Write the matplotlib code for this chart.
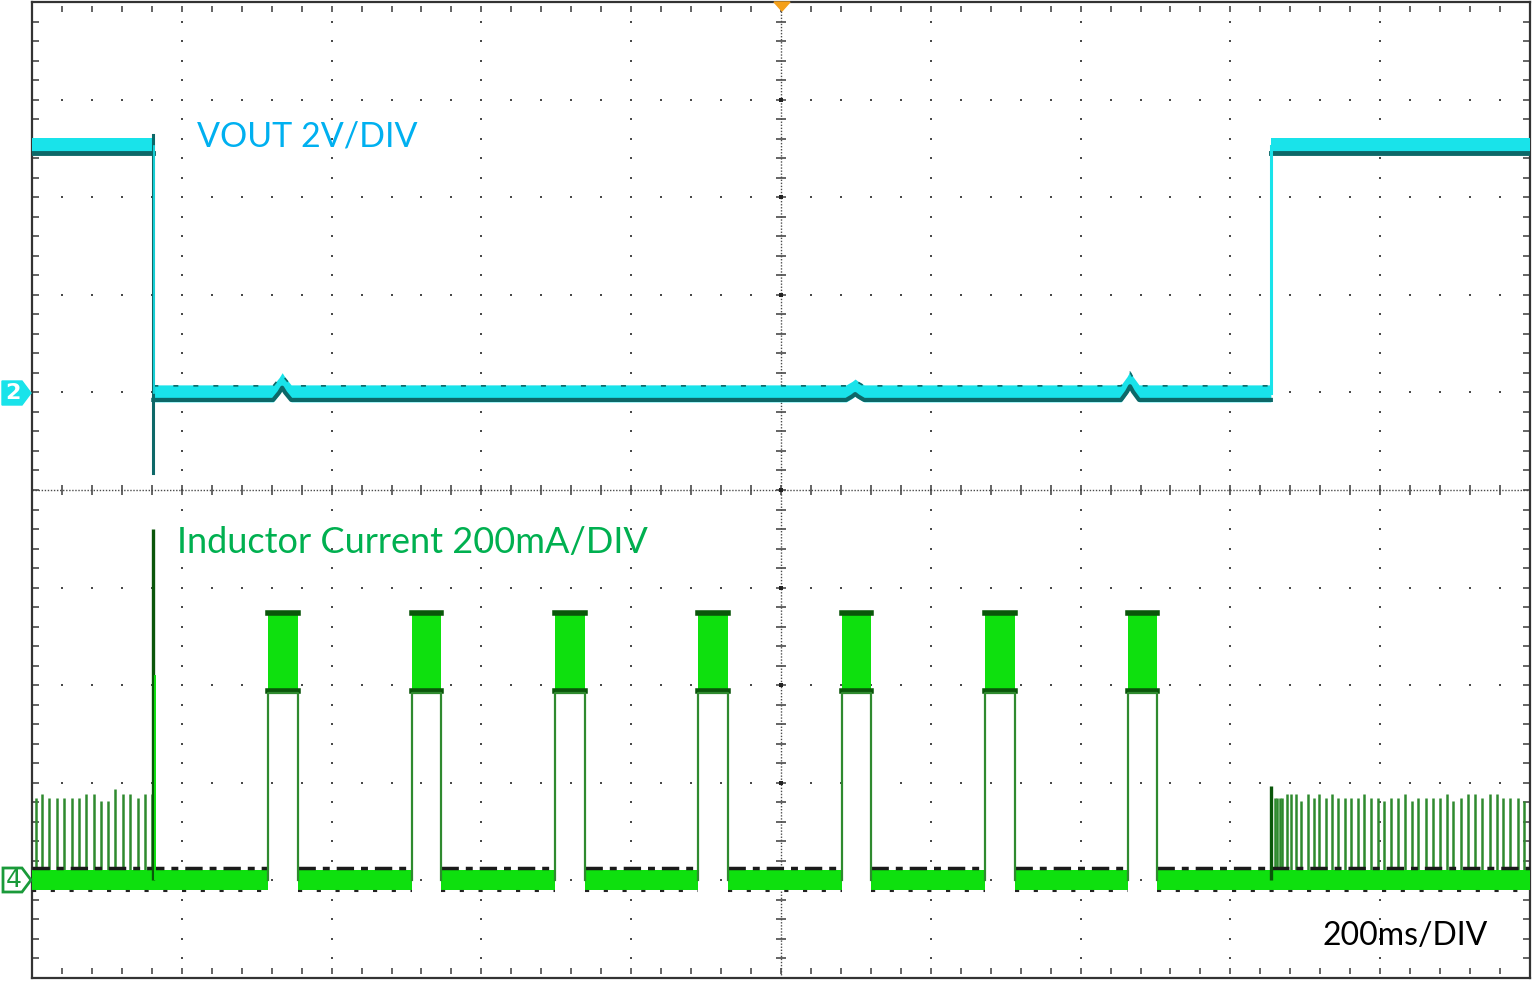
import numpy as np
import matplotlib
matplotlib.use('Agg')
import matplotlib.pyplot as plt
from matplotlib.patches import Polygon

# ---- data (time in ms, 200 ms/div; VOUT in V, inductor current in mA) ----
vout_fall_ms = -838
vout_rise_ms = 654
vout_high_v = 5.04
vout_low_v = -0.02
vout_undershoot_v = -1.66
vout_bump_ms = [-666, 99, 466]
vout_bump_v = [0.25, 0.12, 0.28]

pulse_start_ms = [-685, -493, -302, -111, 81, 272, 463]
pulse_end_ms = [-645, -454, -262, -71, 120, 312, 502]
pulse_top_ma = 551
pulse_low_ma = 385

spike_pre_ms = [-994.6, -986.6, -976.8, -966.6, -956.8, -946.6, -936.8, -928.3, -916.8,
                -908.3, -898.9, -888.8, -878.5, -868.7, -858.9, -848.7, -840.2]
spike_pre_ma = [169, 178, 169, 169, 169, 169, 169, 178, 178,
                163, 163, 187, 178, 178, 169, 178, 178]
spike_post_ms = [659.5, 662.2, 665.8, 669.3, 675.6, 680.9, 687.2, 694.7, 703.2, 711.6,
                 718.7, 727.2, 735.2, 743.2, 753.0, 761.0, 769.9, 778.8, 787.7, 797.1,
                 805.5, 814.8, 823.3, 833.5, 842.9, 850.9, 860.8, 870.1, 879.4, 889.2,
                 897.2, 907.4, 917.2, 927.0, 935.5, 946.2, 955.5, 963.9, 973.3, 983.5, 992.0]
spike_post_ma = [169, 169, 169, 169, 178, 178, 178, 163, 178, 169,
                 178, 169, 178, 169, 169, 169, 169, 178, 169, 169,
                 163, 169, 169, 178, 163, 169, 169, 169, 169, 178,
                 163, 169, 178, 178, 169, 178, 178, 169, 169, 169, 163]
big_spike_ms = [-838, 654]
big_spike_ma = [720, 193]

# channel scaling (divisions)
CH2_OFS, CH2_SCALE = 1.0, 2.0      # V/div
CH4_OFS, CH4_SCALE = -4.0, 200.0   # mA/div


def v2d(v):
    return CH2_OFS + np.asarray(v, dtype=float) / CH2_SCALE


def i2d(i):
    return CH4_OFS + np.asarray(i, dtype=float) / CH4_SCALE


CYAN = '#19e3ea'
TEAL = '#0d6868'
LIME = '#0ee00e'
DKGRN = '#0a560a'
MIDGRN = '#2f8a2f'
GRID = '#4a4a4a'

W, H = 1536, 981
fig = plt.figure(figsize=(W / 100, H / 100), dpi=100)
fig.patch.set_color('white')
ax = fig.add_axes([32 / W, 3 / H, 1498 / W, 976 / H])
ax.set_xlim(-1000, 1000)
ax.set_ylim(-5, 5)
ax.set_xticks([])
ax.set_yticks([])
for s in ax.spines.values():
    s.set_color('#333333')
    s.set_linewidth(1.6)

# ---- graticule ----
ydots = np.arange(-5, 5.01, 0.2)
xdots = np.arange(-1000, 1000.1, 40)
for xv in range(-800, 801, 200):
    if xv == 0:
        continue
    ax.plot(np.full_like(ydots, xv), ydots, ls='none', marker='s', ms=1.6, mew=0, color=GRID)
for yv in range(-4, 5):
    if yv == 0:
        continue
    ax.plot(xdots, np.full_like(xdots, yv), ls='none', marker='s', ms=1.6, mew=0, color=GRID)
# centre cross with minor ticks
ax.axvline(0, color=GRID, lw=1.0, ls=(0, (1, 1.2)))
ax.axhline(0, color=GRID, lw=1.0, ls=(0, (1, 1.2)))
ax.plot(np.zeros_like(ydots), ydots, ls='none', marker='_', ms=7, mew=1.2, color=GRID)
ax.plot(xdots, np.zeros_like(xdots), ls='none', marker='|', ms=7, mew=1.2, color=GRID)
ax.plot(np.zeros(9), np.arange(-4, 5), ls='none', marker='s', ms=3, mew=0, color='#222222')
# border ticks
ax.plot(np.full_like(ydots, -994), ydots, ls='none', marker='_', ms=5, mew=1.2, color=GRID)
ax.plot(np.full_like(ydots, 994), ydots, ls='none', marker='_', ms=5, mew=1.2, color=GRID)
ax.plot(xdots, np.full_like(xdots, -4.93), ls='none', marker='|', ms=5, mew=1.2, color=GRID)
ax.plot(xdots, np.full_like(xdots, 4.93), ls='none', marker='|', ms=5, mew=1.2, color=GRID)

# ---- CH2: VOUT ----
hw = 0.087
segs = [(-1000, vout_fall_ms, vout_high_v), (vout_rise_ms, 1000, vout_high_v)]
for t0, t1, v in segs:
    c = v2d(v)
    ax.fill_between([t0, t1], c - hw, c + hw, color=CYAN, lw=0, zorder=3)
    ax.plot([t0, t1], [c - hw + 0.02, c - hw + 0.02], color=TEAL, lw=3.5, zorder=3)
# low segment with small bumps
t_low = [vout_fall_ms]
v_low = [vout_low_v]
for tb, vb in zip(vout_bump_ms, vout_bump_v):
    t_low += [tb - 12, tb - 4, tb, tb + 4, tb + 12]
    v_low += [vout_low_v, vout_low_v + vb * 0.6, vout_low_v + vb, vout_low_v + vb * 0.6, vout_low_v]
t_low.append(vout_rise_ms)
v_low.append(vout_low_v)
c_low = v2d(v_low)
ax.fill_between(t_low, c_low - hw, c_low + hw, color=CYAN, lw=0, zorder=3)
ax.plot(t_low, c_low - hw + 0.02, color=TEAL, lw=3, zorder=3)
ax.plot(t_low, c_low + hw - 0.01, color=TEAL, lw=1.2, ls=(0, (3, 9)), zorder=3)
# edges
ax.plot([vout_fall_ms, vout_fall_ms], [v2d(vout_high_v) + 0.12, v2d(vout_undershoot_v)],
        color=TEAL, lw=2.2, zorder=4)
ax.plot([vout_fall_ms + 1.5, vout_fall_ms + 1.5], [v2d(vout_high_v), v2d(vout_low_v)],
        color=CYAN, lw=1.2, zorder=4)
ax.plot([vout_rise_ms, vout_rise_ms], [v2d(vout_low_v), v2d(vout_high_v)],
        color=CYAN, lw=2.2, zorder=4)

# ---- CH4: inductor current ----
base_t0 = [-1000] + pulse_end_ms
base_t1 = pulse_start_ms + [1000]
for t0, t1 in zip(base_t0, base_t1):
    ax.fill_between([t0, t1], i2d(-19), i2d(22), color=LIME, lw=0, zorder=3)
    ax.plot([t0, t1], [i2d(26)] * 2, color='#1a1a1a', lw=2.5, ls=(0, (5, 2, 2, 2)), zorder=3)
    ax.plot([t0, t1], [i2d(-22)] * 2, color='#222222', lw=1.5, ls=(0, (2, 7)), zorder=3)
for t0, t1 in zip(pulse_start_ms, pulse_end_ms):
    ax.fill_between([t0, t1], i2d(pulse_low_ma), i2d(pulse_top_ma), color=LIME, lw=0, zorder=3)
    ax.plot([t0, t1], [i2d(pulse_top_ma - 3)] * 2, color=DKGRN, lw=4, zorder=4)
    ax.plot([t0, t1], [i2d(pulse_low_ma + 4)] * 2, color=DKGRN, lw=4, zorder=4)
    ax.plot([t0, t0, t1, t1], [i2d(0), i2d(pulse_low_ma), i2d(pulse_low_ma), i2d(0)],
            color=MIDGRN, lw=1.6, zorder=4)
ax.vlines(spike_pre_ms, i2d(0), i2d(spike_pre_ma), color=MIDGRN, lw=1.8, zorder=2)
ax.vlines(spike_post_ms, i2d(0), i2d(spike_post_ma), color=MIDGRN, lw=1.8, zorder=2)
ax.vlines(big_spike_ms, i2d(0), i2d(big_spike_ma), color=DKGRN, lw=2.4, zorder=4)
ax.vlines([big_spike_ms[0] + 2], i2d(0), i2d(420), color=LIME, lw=1.4, zorder=4)

# ---- labels ----
fig.text(197 / W, 1 - 147 / H, 'VOUT 2V/DIV', color='#00b0f0', fontsize=24.5,
         family=['Lato', 'DejaVu Sans'], va='baseline', ha='left')
fig.text(177 / W, 1 - 553 / H, 'Inductor Current 200mA/DIV', color='#00b050', fontsize=26,
         family=['Lato', 'DejaVu Sans'], va='baseline', ha='left')
fig.text(1322 / W, 1 - 945 / H, '200ms/DIV', color='black', fontsize=23,
         family=['Lato', 'DejaVu Sans'], va='baseline', ha='left')


# channel markers and trigger marker (pixel coords -> figure fraction)
def px(pts):
    return [(x / W, 1 - y / H) for x, y in pts]


fig.patches.append(Polygon(px([(2, 381), (22, 381), (31, 393), (22, 405), (2, 405)]),
                           closed=True, facecolor=CYAN, edgecolor=CYAN, lw=1,
                           transform=fig.transFigure, figure=fig))
fig.text(13 / W, 1 - 393 / H, '2', color='white', fontsize=16, fontweight='bold',
         ha='center', va='center')
fig.patches.append(Polygon(px([(3, 868), (22, 868), (31, 880), (22, 892), (3, 892)]),
                           closed=True, facecolor='white', edgecolor='#1a9a3a', lw=2,
                           transform=fig.transFigure, figure=fig))
fig.text(14 / W, 1 - 880 / H, '4', color='#1a9a3a', fontsize=18,
         ha='center', va='center')
fig.patches.append(Polygon(px([(774, 2), (790, 2), (782, 11)]), closed=True,
                           facecolor='#f5a01a', edgecolor='#f5a01a', lw=1,
                           transform=fig.transFigure, figure=fig))

fig.savefig('out.png', dpi=100, facecolor='white')
